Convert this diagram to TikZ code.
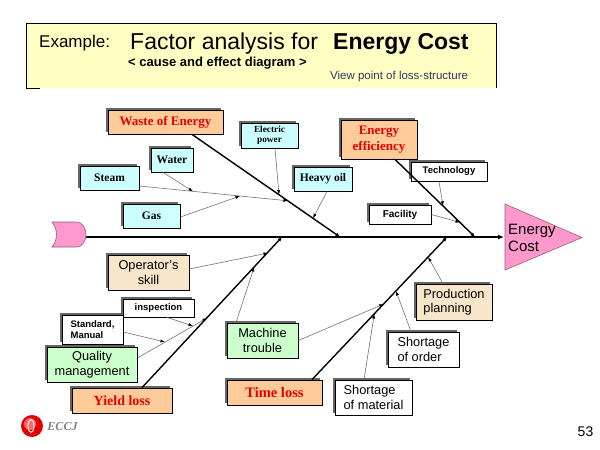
\documentclass[tikz,border=0pt]{standalone}
\usepackage{fontspec}
\setmainfont{Liberation Serif}
\setsansfont{Liberation Sans}
\usetikzlibrary{arrows.meta,shadows}
\newcommand\fsz[2]{\fontsize{#1}{#2}\selectfont}
\definecolor{titlefill}{RGB}{255,255,196}
\definecolor{cyanfill}{RGB}{204,255,255}
\definecolor{orangefill}{RGB}{255,204,153}
\definecolor{beigefill}{RGB}{248,230,202}
\definecolor{greenfill}{RGB}{204,255,204}
\definecolor{pinkfill}{RGB}{255,153,204}
\definecolor{pinkline}{RGB}{150,90,130}
\definecolor{viewcol}{RGB}{51,51,102}
\definecolor{redtext}{RGB}{230,0,0}
\begin{document}
\begin{tikzpicture}[x=1pt,y=-1pt,
  box/.style={draw=black, line width=0.8pt, inner sep=1pt, align=center, anchor=center,
    drop shadow={shadow xshift=-1.6pt, shadow yshift=1.6pt, fill=black!60, opacity=1}},
  cyanbox/.style={box, fill=cyanfill, font=\rmfamily\bfseries\fsz{11.5}{13}},
  mainbox/.style={box, fill=orangefill, text=redtext, font=\rmfamily\bfseries\fsz{13}{16}},
  beigebox/.style={box, fill=beigefill, font=\sffamily\fsz{12.8}{14.5}},
  greenbox/.style={box, fill=greenfill, font=\sffamily\fsz{12.8}{14.5}},
  whitebox/.style={box, fill=white, font=\sffamily\fsz{12.8}{14.5}},
  smallbox/.style={box, fill=white, font=\sffamily\bfseries\fsz{9.5}{11.5}},
  bone/.style={line width=1.4pt, -{Latex[length=4.5pt,width=4pt]}},
  sub/.style={draw=black!55, line width=0.6pt, -{Latex[length=4.5pt,width=3.2pt,color=black]}}
]
\useasboundingbox (0,0) rectangle (600,450);
\fill[white] (0,0) rectangle (600,450);

% title panel
\fill[titlefill] (26,23) rectangle (496,88);
\draw[line width=0.8pt] (26,88) -- (26,23) -- (496,23) -- (496,88);
\draw[line width=0.8pt] (26,88) -- (40,88);
\node[anchor=base west, font=\sffamily\fsz{17}{20}, inner sep=0] (ex) at (39,47) {Example:};
\node[anchor=base west, font=\sffamily\fsz{23}{26}, inner sep=0] (fa) at (130,49.5) {Factor analysis for};
\node[anchor=base west, font=\sffamily\bfseries\fsz{23}{26}, inner sep=0] (ec) at (333,49.5) {Energy Cost};
\node[anchor=base west, font=\sffamily\bfseries\fsz{13}{14}, inner sep=0] (ce) at (128,66.5) {< cause and effect diagram >};
\node[anchor=base west, font=\sffamily\fsz{11.5}{13}, text=viewcol, inner sep=0] (vp) at (330,79) {View point of loss-structure};

% fish tail and head
\filldraw[fill=pinkfill, draw=pinkline, line width=0.6pt]
  (52,222) -- (76,222) .. controls (83,222) and (86,229) .. (86,234.5)
  .. controls (86,240) and (83,247) .. (76,247) -- (52,247)
  .. controls (58,240) and (58,229) .. (52,222) -- cycle;
\filldraw[fill=pinkfill, draw=pinkline, line width=0.6pt]
  (505,204) -- (582,237.5) -- (505,270) -- cycle;
\node[anchor=west, font=\sffamily\fsz{15}{17}, align=left, inner sep=0] (effect) at (508,237.5) {Energy\\Cost};
\coordinate (tailend) at (86,237);
\coordinate (head) at (504,237);
\draw[line width=1.6pt, -{Latex[length=6pt,width=5pt]}] (tailend) -- (head);

% boxes
\node[mainbox, minimum width=115pt, minimum height=24pt] (waste) at (165.5,122) {Waste of Energy};
\node[cyanbox, font=\rmfamily\bfseries\fsz{9.3}{10.5}, minimum width=57pt, minimum height=25pt] (elec) at (269.5,135.5) {Electric\\power};
\node[cyanbox, minimum width=58pt, minimum height=24pt] (heavy) at (323,179) {Heavy oil};
\node[cyanbox, minimum width=59pt, minimum height=24pt] (steam) at (109.5,178) {Steam};
\node[cyanbox, minimum width=42pt, minimum height=24pt] (water) at (172,160) {Water};
\node[cyanbox, minimum width=57pt, minimum height=24pt] (gas) at (151.5,216) {Gas};
\node[mainbox, minimum width=76pt, minimum height=39pt] (eff) at (379,139.5) {Energy\\efficiency};
\node[smallbox, minimum width=76pt, minimum height=19pt] (tech) at (449,171.5) {Technology};
\node[smallbox, font=\sffamily\bfseries\fsz{10}{12}, minimum width=62pt, minimum height=19pt] (fac) at (400,214.5) {Facility};
\node[mainbox, font=\rmfamily\bfseries\fsz{14}{16}, minimum width=100pt, minimum height=25pt] (yield) at (122,400.5) {Yield loss};
\node[beigebox, minimum width=81pt, minimum height=35pt] (oper) at (148.5,272.5) {Operator's\\skill};
\node[greenbox, minimum width=90pt, minimum height=35pt] (qual) at (92,364.5) {Quality\\management};
\node[smallbox, minimum width=71pt, minimum height=18pt] (insp) at (158.5,308) {inspection};
\node[smallbox, align=left, minimum width=61pt, minimum height=29pt] (std) at (92.5,329.5) {Standard,\\Manual};
\node[greenbox, minimum width=71pt, minimum height=35pt] (mach) at (262.5,340.5) {Machine\\trouble};
\node[mainbox, font=\rmfamily\bfseries\fsz{14.5}{16}, minimum width=95pt, minimum height=25pt] (time) at (274.5,392.5) {Time loss};
\node[beigebox, align=left, minimum width=76pt, minimum height=36pt] (prod) at (454,302) {Production\\planning};
\node[whitebox, align=left, minimum width=71pt, minimum height=35pt] (order) at (423.5,349.5) {Shortage\\of order};
\node[whitebox, align=left, minimum width=77pt, minimum height=35pt] (mat) at (373.5,397.5) {Shortage\\of material};

% bone end points
\coordinate (wE) at (340,237);
\coordinate (fE) at (475,237);
\coordinate (yE) at (282,237);
\coordinate (tE) at (447,237);
\coordinate (pEl) at (279,194.6);
\coordinate (pSt) at (288,200.8);
\coordinate (pHo) at (313,218.2);
\coordinate (pWa) at (193,191.4);
\coordinate (pGa) at (240,196);
\coordinate (pTe) at (443,205.8);
\coordinate (pFa) at (460,222.4);
\coordinate (pOp) at (268,253);
\coordinate (pQu) at (207,318);
\coordinate (pMa) at (254.2,267);
\coordinate (pIn) at (193,326);
\coordinate (pSd) at (165,342);
\coordinate (pM2) at (383.7,304);
\coordinate (pPr) at (428.1,257);
\coordinate (pOr) at (396,291);
\coordinate (pMt) at (374.3,314);

% main bones
\draw[bone] ([xshift=26.5pt]waste.south) -- (wE);
\draw[bone] ([xshift=16pt]eff.south) -- (fE);
\draw[bone] ([xshift=20pt]yield.north) -- (yE);
\draw[bone] ([xshift=37.5pt]time.north) -- (tE);

% sub bones
\draw[sub] ([xshift=5.5pt]elec.south) -- (pEl);
\draw[sub] ([yshift=-8pt]steam.east) -- (pSt);
\draw[sub] ([xshift=4pt]heavy.south) -- (pHo);
\draw[sub] ([xshift=-9pt]water.south) -- (pWa);
\draw[sub] ([yshift=-1pt]gas.east) -- (pGa);
\draw[sub] ([xshift=-10pt]tech.south) -- (pTe);
\draw[sub] (fac.east) -- (pFa);
\draw[sub] ([yshift=3.5pt]oper.east) -- (pOp);
\draw[sub] ([yshift=6.5pt]qual.east) -- (pQu);
\draw[sub] ([xshift=-26.5pt]mach.north) -- (pMa);
\draw[sub] ([xshift=8.5pt]insp.south) -- (pIn);
\draw[sub] ([yshift=-2.5pt]std.east) -- (pSd);
\draw[sub] (mach.east) -- (pM2);
\draw[sub] ([xshift=-11pt]prod.north) -- (pPr);
\draw[sub] ([xshift=-12.5pt]order.north) -- (pOr);
\draw[sub] ([xshift=-9.5pt]mat.north) -- (pMt);

% logo and page number
\fill[red!90!black] (32,426) circle (11);
\fill[red!60] (30,424) circle (6);
\draw[white, line width=0.9pt] (31,426) ellipse (3 and 6.5);
\node[font=\rmfamily\bfseries\itshape\fsz{12}{13}, text=black!50, inner sep=0] (eccj) at (62.5,427) {ECCJ};
\node[font=\sffamily\fsz{14}{16}, inner sep=0] (pg) at (585.5,432) {53};
\end{tikzpicture}
\end{document}
